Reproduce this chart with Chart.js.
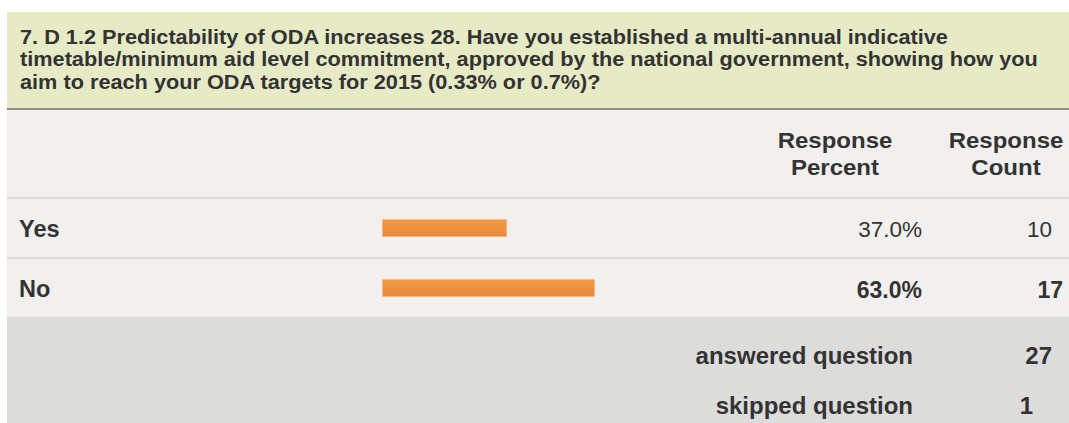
<!DOCTYPE html>
<html>
<head>
<meta charset="utf-8">
<script src="https://cdn.jsdelivr.net/npm/chart.js@4.4.1/dist/chart.umd.min.js"></script>
<style>
  html, body { margin: 0; padding: 0; background: #ffffff; }
  body { width: 1069px; height: 423px; position: relative; overflow: hidden;
         font-family: "Liberation Sans", Arial, sans-serif; color: #333333; }
  .abs { position: absolute; white-space: nowrap; }
  #title { left: 7px; top: 12px; width: 1062px; height: 96px; background: #e6ebc6;
           border-bottom: 2px solid #8f9188; box-sizing: content-box; }
  #titleText { position: absolute; left: 13px; top: 13.7px; font-size: 19.5px; font-weight: bold;
               line-height: 22.5px; color: #333; white-space: nowrap;
               transform: scaleX(1.113); transform-origin: 0 0; }
  #table { left: 7px; top: 110px; width: 1062px; height: 313px; background: #f1f0ee; }
  .sep { position: absolute; left: 7px; width: 1062px; height: 2px; background: #dddcda; }
  #footer { left: 7px; top: 318px; width: 1062px; height: 105px; background: #dcdcdb; }
  .hdr { font-size: 21.5px; font-weight: bold; text-align: center; line-height: 26.7px;
         transform: scaleX(1.116); transform-origin: 50% 0; }
  .lbl { font-size: 23.5px; font-weight: bold; }
  .val { font-size: 22.5px; text-align: right; }
  .ft { font-size: 24px; font-weight: bold; text-align: right; }
  #chartBox { position: absolute; left: 382px; top: 198px; width: 338px; height: 120px; }
</style>
</head>
<body>
<div id="title" class="abs"><div id="titleText"></div></div>
<div id="table" class="abs"></div>
<div id="footer" class="abs"></div>
<div class="sep" style="top:197px"></div>
<div class="sep" style="top:257px"></div>
<div class="sep" style="top:317px"></div>
<div class="abs hdr" style="left:755px; top:127.8px; width:160px;">Response<br>Percent</div>
<div class="abs hdr" style="left:926px; top:127.8px; width:160px;">Response<br>Count</div>
<div id="rows"></div>
<div id="chartBox"><canvas id="c"></canvas></div>
<script>
const titleLines = [
  "7. D 1.2 Predictability of ODA increases 28. Have you established a multi-annual indicative",
  "timetable/minimum aid level commitment, approved by the national government, showing how you",
  "aim to reach your ODA targets for 2015 (0.33% or 0.7%)?"
];
const categories = ["Yes", "No"];
const responsePercent = [37.0, 63.0];
const responseCount = [10, 17];
const footerLabels = ["answered question", "skipped question"];
const footerValues = [27, 1];

document.getElementById('titleText').innerHTML = titleLines.join('<br>');

const maxIdx = responsePercent.indexOf(Math.max(...responsePercent));
const rows = document.getElementById('rows');
categories.forEach((cat, i) => {
  const top = 198 + i * 60;
  const isMax = i === maxIdx;
  const bold = isMax ? 'font-weight:bold; font-size:23px;' : '';
  rows.insertAdjacentHTML('beforeend',
    `<div class="abs lbl" style="left:19px; top:${top + 17.5}px;">${cat}</div>` +
    `<div class="abs val" style="left:780px; width:142px; top:${top + 18.5}px; ${bold}">${responsePercent[i].toFixed(1)}%</div>` +
    `<div class="abs val" style="left:960px; width:${isMax ? 103 : 92}px; top:${top + 18.5}px; ${bold}">${responseCount[i]}</div>`);
});
footerLabels.forEach((lab, i) => {
  const top = 341.5 + i * 50;
  rows.insertAdjacentHTML('beforeend',
    `<div class="abs ft" style="left:600px; width:313px; top:${top}px;">${lab}</div>` +
    `<div class="abs ft" style="left:960px; width:${i === 0 ? 92 : 73}px; top:${top}px;">${footerValues[i]}</div>`);
});

new Chart(document.getElementById('c'), {
  type: 'bar',
  data: {
    labels: categories,
    datasets: [{
      data: responsePercent,
      backgroundColor: (c) => {
        const chart = c.chart;
        const ys = chart.scales && chart.scales.y;
        if (!ys || c.dataIndex === undefined) return '#ee8f3e';
        const yc = ys.getPixelForValue(c.dataIndex);
        if (!Number.isFinite(yc)) return '#ee8f3e';
        const g = chart.ctx.createLinearGradient(0, yc - 9, 0, yc + 9);
        g.addColorStop(0, '#f39b44');
        g.addColorStop(1, '#e7873a');
        return g;
      },
      borderColor: '#f7c7a0',
      borderWidth: 1,
      borderSkipped: false,
      barThickness: 18
    }]
  },
  options: {
    indexAxis: 'y',
    responsive: true,
    maintainAspectRatio: false,
    animation: false,
    layout: { padding: 0 },
    plugins: { legend: { display: false }, tooltip: { enabled: false } },
    scales: {
      x: { display: false, min: 0, max: 100 },
      y: { display: false }
    }
  }
});
</script>
</body>
</html>
